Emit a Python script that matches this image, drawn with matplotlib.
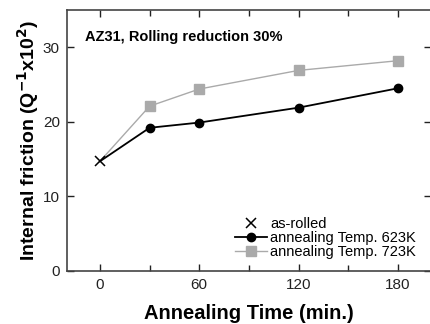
import matplotlib.pyplot as plt
from matplotlib.ticker import MultipleLocator

plt.rcParams['font.family'] = ['Liberation Sans', 'DejaVu Sans']

# data
time_rolled = [0]
q_rolled = [14.7]
time_623 = [0, 30, 60, 120, 180]
q_623 = [14.7, 19.2, 19.9, 21.9, 24.5]
time_723 = [0, 30, 60, 120, 180]
q_723 = [14.7, 22.1, 24.4, 26.9, 28.2]

fig = plt.figure(figsize=(4.31, 3.24), dpi=100)
ax = fig.add_axes([0.155, 0.164, 0.845, 0.805])

ax.plot(time_723, q_723, '-', color='#aaaaaa', lw=1.0, marker='s', ms=6.5,
        markevery=[1, 2, 3, 4], label='annealing Temp. 723K')
ax.plot(time_623, q_623, '-', color='black', lw=1.3, marker='o', ms=6,
        markevery=[1, 2, 3, 4], label='annealing Temp. 623K')
ax.plot(time_rolled, q_rolled, 'x', color='black', ms=7, mew=1.1, ls='none',
        label='as-rolled')

ax.set_xlim(-20, 200)
ax.set_ylim(0, 35)
ax.xaxis.set_major_locator(MultipleLocator(60))
ax.xaxis.set_minor_locator(MultipleLocator(30))
ax.yaxis.set_major_locator(MultipleLocator(10))
ax.tick_params(which='both', direction='in', top=True, right=True, labelsize=11,
               colors='#222222', pad=5)
ax.tick_params(which='major', length=5, width=1)
ax.tick_params(which='minor', length=4, width=1)
for s in ax.spines.values():
    s.set_linewidth(1.2)
    s.set_color('#444444')

ax.set_xlabel('Annealing Time (min.)', fontsize=14.5, fontweight='bold', labelpad=9)
ax.set_ylabel('Internal friction (Q$^{\\mathbf{-1}}$x10$^{\\mathbf{2}}$)', fontsize=14,
              fontweight='bold', labelpad=1)

ax.text(0.05, 0.895, 'AZ31, Rolling reduction 30%', transform=ax.transAxes,
        fontsize=10.5, fontweight='bold', ha='left', va='center')

h, l = ax.get_legend_handles_labels()
ax.legend(h[::-1], l[::-1], loc='lower right', bbox_to_anchor=(0.99, 0.0),
          frameon=False, fontsize=10.5, handlelength=2.2, handletextpad=0.2,
          labelspacing=0.0, borderaxespad=0.4)

fig.savefig('out.png', dpi=100)
